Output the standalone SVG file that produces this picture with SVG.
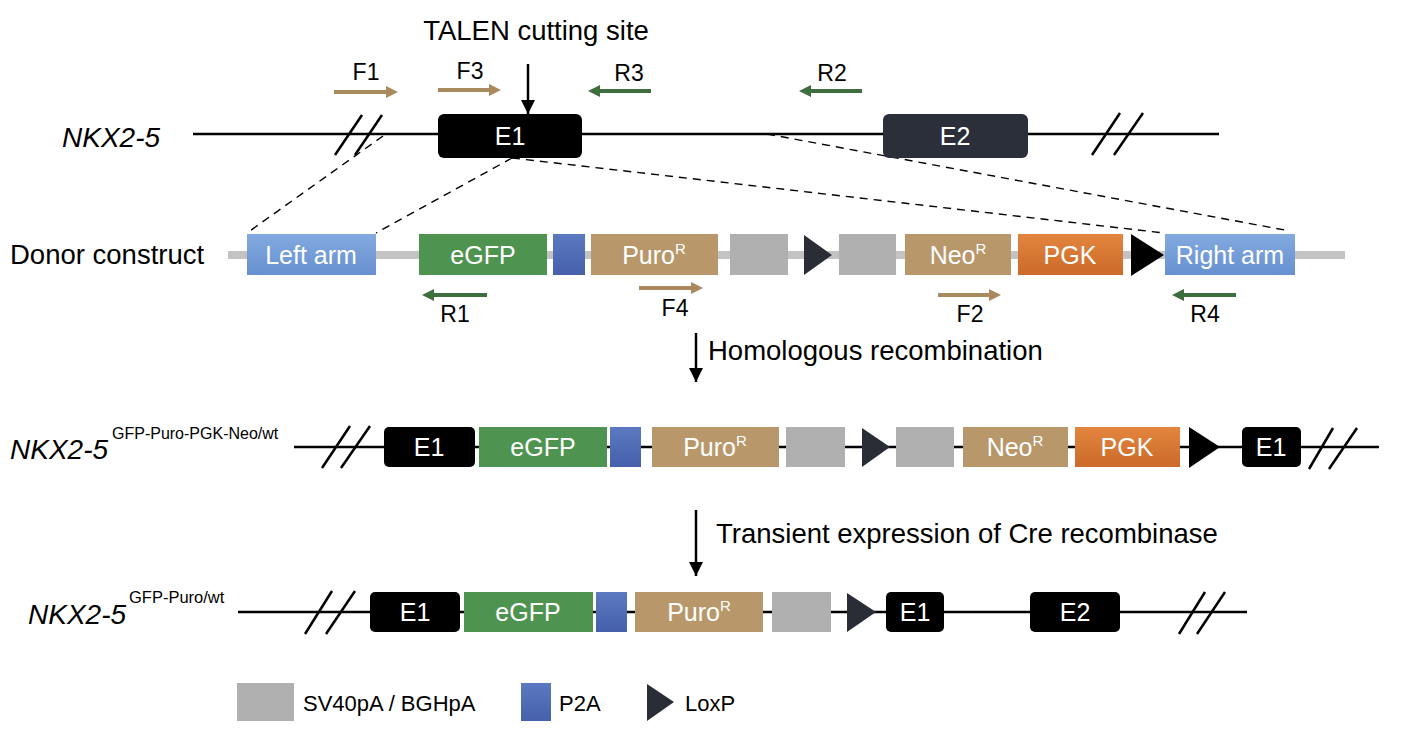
<svg xmlns="http://www.w3.org/2000/svg" width="1401" height="734" viewBox="0 0 1401 734">
<defs>
<linearGradient id="gArm" x1="0" y1="0" x2="0" y2="1"><stop offset="0" stop-color="#83a9df"/><stop offset="1" stop-color="#6690d0"/></linearGradient>
<linearGradient id="gP2A" x1="0" y1="0" x2="0" y2="1"><stop offset="0" stop-color="#5b79c0"/><stop offset="1" stop-color="#4660ab"/></linearGradient>
<linearGradient id="gPGK" x1="0" y1="0" x2="0" y2="1"><stop offset="0" stop-color="#e3853f"/><stop offset="1" stop-color="#cb6a29"/></linearGradient>
<marker id="blk" markerUnits="userSpaceOnUse" markerWidth="16" markerHeight="16" refX="14" refY="7" orient="auto"><path d="M0,0 L14,7 L0,14 Z" fill="#000"/></marker>
</defs>
<style>
text{font-family:"Liberation Sans",Arial,sans-serif;fill:#000}
.lbl{font-size:27.5px}
.prm{font-size:23px;text-anchor:middle}
.bx{font-size:25px;fill:#fff;text-anchor:middle}
.sup{font-size:15px}
.it{font-style:italic;font-size:28px}
.leg{font-size:22px}
.gline{stroke:#000;stroke-width:2.5;fill:none}
.slash{stroke:#000;stroke-width:2.5}
.dash{stroke:#000;stroke-width:1.4;stroke-dasharray:8 6;fill:none}
.tanL{stroke:#a88a5e;stroke-width:4}
.tanH{fill:#a88a5e}
.grnL{stroke:#3f6e3e;stroke-width:4}
.grnH{fill:#3f6e3e}
.arm{fill:url(#gArm)}
.gfp{fill:#4f9350}
.p2a{fill:url(#gP2A)}
.tan{fill:#b8976a}
.gry{fill:#b0b0b1}
.pgk{fill:url(#gPGK)}
.lox{fill:#2a2d36}
.loxb{fill:#000}
.ex{fill:#000}
.ex2{fill:#2b2f3a}
.arr{stroke:#000;stroke-width:2.5;marker-end:url(#blk)}
</style>
<rect width="1401" height="734" fill="#fff"/>

<!-- Titles and labels -->
<text class="lbl" x="536" y="40" text-anchor="middle">TALEN cutting site</text>
<text class="it" x="62" y="147">NKX2-5</text>
<text class="lbl" x="10" y="264">Donor construct</text>
<text class="it" x="10" y="459">NKX2-5</text><text class="sup" x="112" y="439" style="font-size:16px">GFP-Puro-PGK-Neo/wt</text>
<text class="it" x="28" y="624">NKX2-5</text><text class="sup" x="129" y="603" style="font-size:16.5px">GFP-Puro/wt</text>
<text class="lbl" x="708" y="360">Homologous recombination</text>
<text class="lbl" x="716" y="543">Transient expression of Cre recombinase</text>

<!-- Row 1 genomic locus -->
<g id="locus-wt">
<line class="gline" x1="193" y1="134" x2="1219" y2="134"/>
<line class="slash" x1="335" y1="155" x2="362" y2="115"/>
<line class="slash" x1="355" y1="155" x2="382" y2="115"/>
<line class="slash" x1="1092" y1="155" x2="1120" y2="113"/>
<line class="slash" x1="1114" y1="155" x2="1143" y2="113"/>
</g>

<g id="connectors">
<line class="dash" x1="383" y1="136" x2="247" y2="233"/>
<line class="dash" x1="512" y1="158" x2="376" y2="233"/>
<line class="dash" x1="512" y1="158" x2="1164" y2="233"/>
<line class="dash" x1="767" y1="134" x2="1290" y2="231"/>
<line class="arr" x1="528" y1="64" x2="528" y2="114"/>
<line class="arr" x1="696" y1="333" x2="696" y2="382"/>
<line class="arr" x1="696" y1="510" x2="696" y2="576"/>
</g>

<g id="r1-E1"><rect class="ex" x="438" y="114" width="144" height="44" rx="6"/><text class="bx" x="510" y="145">E1</text></g>
<g id="r1-E2"><rect class="ex2" x="883" y="114" width="145" height="44" rx="6"/><text class="bx" x="955" y="145">E2</text></g>

<!-- primers row 1 -->
<g id="primer-F1"><line class="tanL" x1="334" y1="92" x2="387" y2="92"/><path class="tanH" d="M386,86 L398,92 L386,98 Z"/><text class="prm" x="366" y="80">F1</text></g>
<g id="primer-F3"><line class="tanL" x1="438" y1="90" x2="490" y2="90"/><path class="tanH" d="M489,84 L501,90 L489,96 Z"/><text class="prm" x="470" y="79">F3</text></g>
<g id="primer-R3"><line class="grnL" x1="599" y1="91" x2="651" y2="91"/><path class="grnH" d="M600,85 L588,91 L600,97 Z"/><text class="prm" x="629" y="81">R3</text></g>
<g id="primer-R2"><line class="grnL" x1="810" y1="91" x2="862" y2="91"/><path class="grnH" d="M811,85 L799,91 L811,97 Z"/><text class="prm" x="832" y="81">R2</text></g>

<!-- Row 2 donor -->
<g id="donor-backbone"><line x1="228" y1="255" x2="1345" y2="255" stroke="#c3c3c3" stroke-width="8"/></g>
<g id="d-leftarm"><rect class="arm" x="247" y="234" width="129" height="41"/><text class="bx" x="311" y="264">Left arm</text></g>
<g id="d-egfp"><rect class="gfp" x="419" y="234" width="128" height="41"/><text class="bx" x="483" y="264">eGFP</text></g>
<g id="d-p2a"><rect class="p2a" x="553" y="234" width="32" height="41"/></g>
<g id="d-puro"><rect class="tan" x="591" y="234" width="127" height="41"/><text class="bx" x="654" y="264">Puro<tspan class="sup" dy="-10">R</tspan></text></g>
<g id="d-pa1"><rect class="gry" x="730" y="234" width="58" height="41"/></g>
<g id="d-lox1"><path class="lox" d="M804,235 L832,255 L804,275 Z"/></g>
<g id="d-pa2"><rect class="gry" x="839" y="234" width="57" height="41"/></g>
<g id="d-neo"><rect class="tan" x="905" y="234" width="106" height="41"/><text class="bx" x="958" y="264">Neo<tspan class="sup" dy="-10">R</tspan></text></g>
<g id="d-pgk"><rect class="pgk" x="1018" y="234" width="105" height="41"/><text class="bx" x="1070" y="264">PGK</text></g>
<g id="d-lox2"><path class="loxb" d="M1131,234 L1164,255 L1131,276 Z"/></g>
<g id="d-rightarm"><rect class="arm" x="1165" y="234" width="130" height="41"/><text class="bx" x="1230" y="264">Right arm</text></g>

<!-- primers row 2 -->
<g id="primer-R1"><line class="grnL" x1="433" y1="295" x2="487" y2="295"/><path class="grnH" d="M434,289 L422,295 L434,301 Z"/><text class="prm" x="455" y="322">R1</text></g>
<g id="primer-F4"><line class="tanL" x1="639" y1="288" x2="692" y2="288"/><path class="tanH" d="M691,282 L703,288 L691,294 Z"/><text class="prm" x="675" y="316">F4</text></g>
<g id="primer-F2"><line class="tanL" x1="938" y1="295" x2="990" y2="295"/><path class="tanH" d="M989,289 L1001,295 L989,301 Z"/><text class="prm" x="970" y="322">F2</text></g>
<g id="primer-R4"><line class="grnL" x1="1183" y1="295" x2="1236" y2="295"/><path class="grnH" d="M1184,289 L1172,295 L1184,301 Z"/><text class="prm" x="1205" y="322">R4</text></g>

<!-- Row 3 targeted allele -->
<g id="locus-targeted">
<line class="gline" x1="294" y1="447" x2="1379" y2="447"/>
<line class="slash" x1="322" y1="468" x2="350" y2="426"/>
<line class="slash" x1="341" y1="468" x2="370" y2="426"/>
<line class="slash" x1="1309" y1="469" x2="1333" y2="428"/>
<line class="slash" x1="1329" y1="469" x2="1357" y2="428"/>
</g>
<g id="t-E1a"><rect class="ex" x="384" y="427" width="91" height="40" rx="5"/><text class="bx" x="429" y="456">E1</text></g>
<g id="t-egfp"><rect class="gfp" x="479" y="427" width="128" height="40"/><text class="bx" x="543" y="456">eGFP</text></g>
<g id="t-p2a"><rect class="p2a" x="610" y="427" width="31" height="40"/></g>
<g id="t-puro"><rect class="tan" x="652" y="427" width="127" height="40"/><text class="bx" x="715" y="456">Puro<tspan class="sup" dy="-10">R</tspan></text></g>
<g id="t-pa1"><rect class="gry" x="786" y="427" width="59" height="40"/></g>
<g id="t-lox1"><path class="lox" d="M862,428 L890,447 L862,467 Z"/></g>
<g id="t-pa2"><rect class="gry" x="896" y="427" width="58" height="40"/></g>
<g id="t-neo"><rect class="tan" x="963" y="427" width="105" height="40"/><text class="bx" x="1015" y="456">Neo<tspan class="sup" dy="-10">R</tspan></text></g>
<g id="t-pgk"><rect class="pgk" x="1075" y="427" width="105" height="40"/><text class="bx" x="1127" y="456">PGK</text></g>
<g id="t-lox2"><path class="loxb" d="M1189,427 L1220,447 L1189,468 Z"/></g>
<g id="t-E1b"><rect class="ex" x="1242" y="427" width="59" height="40" rx="5"/><text class="bx" x="1271" y="456">E1</text></g>

<!-- Row 4 excised allele -->
<g id="locus-excised">
<line class="gline" x1="238" y1="612" x2="1247" y2="612"/>
<line class="slash" x1="305" y1="634" x2="332" y2="591"/>
<line class="slash" x1="326" y1="634" x2="355" y2="591"/>
<line class="slash" x1="1179" y1="634" x2="1205" y2="592"/>
<line class="slash" x1="1197" y1="634" x2="1225" y2="592"/>
</g>
<g id="e-E1a"><rect class="ex" x="370" y="592" width="90" height="40" rx="5"/><text class="bx" x="415" y="621">E1</text></g>
<g id="e-egfp"><rect class="gfp" x="464" y="592" width="129" height="40"/><text class="bx" x="528" y="621">eGFP</text></g>
<g id="e-p2a"><rect class="p2a" x="596" y="592" width="31" height="40"/></g>
<g id="e-puro"><rect class="tan" x="635" y="592" width="128" height="40"/><text class="bx" x="699" y="621">Puro<tspan class="sup" dy="-10">R</tspan></text></g>
<g id="e-pa1"><rect class="gry" x="772" y="592" width="59" height="40"/></g>
<g id="e-lox1"><path class="lox" d="M847,593 L876,612 L847,632 Z"/></g>
<g id="e-E1b"><rect class="ex" x="886" y="592" width="58" height="40" rx="5"/><text class="bx" x="915" y="621">E1</text></g>
<g id="e-E2"><rect class="ex" x="1030" y="592" width="90" height="40" rx="5"/><text class="bx" x="1075" y="621">E2</text></g>

<!-- Legend -->
<g id="legend-pa"><rect class="gry" x="237" y="683" width="57" height="38"/><text class="leg" x="303" y="711">SV40pA / BGHpA</text></g>
<g id="legend-p2a"><rect class="p2a" x="521" y="683" width="30" height="38"/><text class="leg" x="559" y="711">P2A</text></g>
<g id="legend-loxp"><path class="lox" d="M647,684 L674,702 L647,721 Z"/><text class="leg" x="685" y="711">LoxP</text></g>
</svg>
